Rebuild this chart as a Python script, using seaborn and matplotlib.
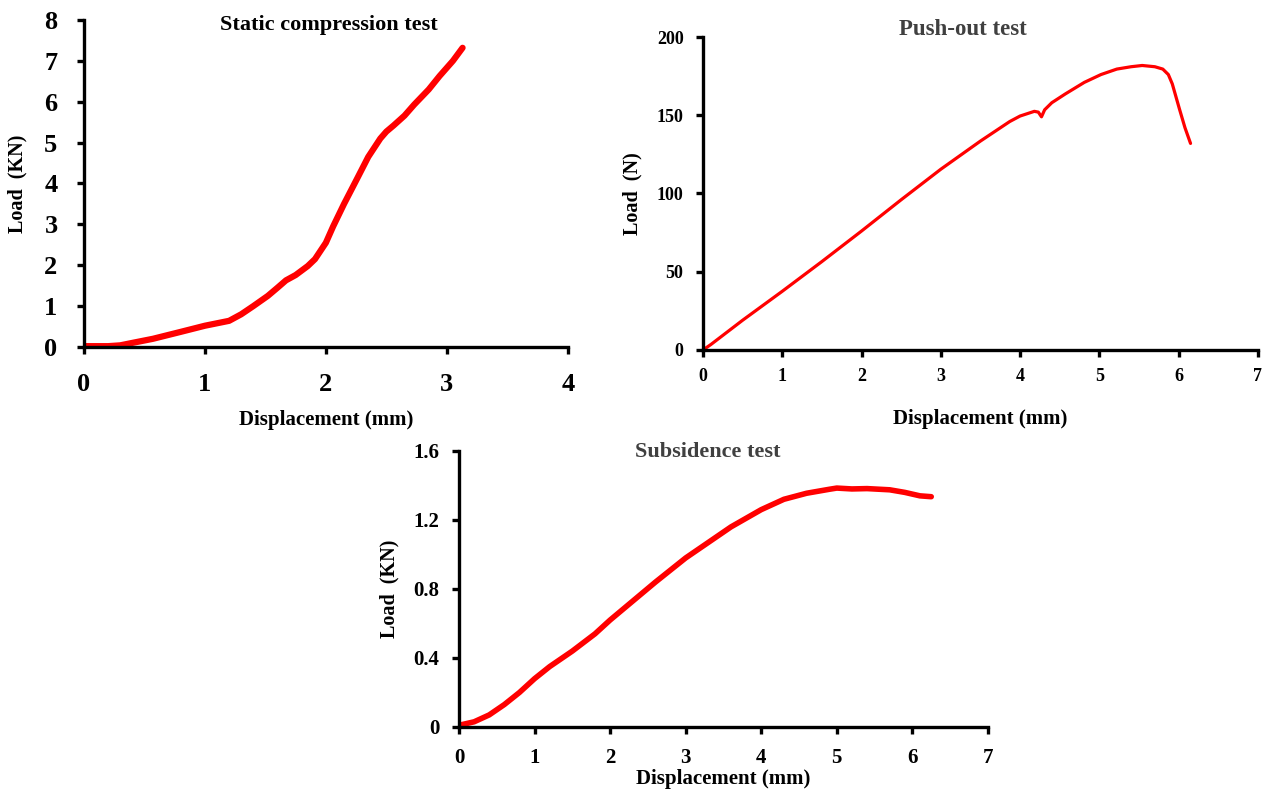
import seaborn as sns
import matplotlib.pyplot as plt

# static compression test (kN)
sc_disp = [0, 0.1, 0.2, 0.3, 0.4, 0.57, 0.8, 1.0, 1.2, 1.3, 1.4, 1.52, 1.6, 1.67, 1.75, 1.85, 1.91,
           2.0, 2.06, 2.15, 2.26, 2.35, 2.45, 2.5, 2.56, 2.65, 2.73, 2.85, 2.94, 3.05, 3.13]
sc_load = [0.02, 0.02, 0.02, 0.04, 0.1, 0.2, 0.37, 0.52, 0.64, 0.8, 1.0, 1.25, 1.45, 1.63, 1.76, 1.98, 2.15,
           2.55, 2.95, 3.5, 4.13, 4.65, 5.1, 5.27, 5.42, 5.66, 5.93, 6.3, 6.63, 7.0, 7.32]

# push-out test (N)
po_disp = [0, 0.1, 0.5, 1.0, 1.5, 2.0, 2.5, 3.0, 3.5, 3.87, 4.0, 4.18, 4.23, 4.27, 4.31, 4.4,
           4.57, 4.81, 5.02, 5.22, 5.4, 5.54, 5.7, 5.8, 5.87, 5.92, 6.01, 6.08, 6.15]
po_load = [0, 3.5, 19, 37.5, 56.5, 76, 96, 115.5, 133.5, 146, 149.5, 152.5, 152, 149, 153.5, 158,
           163.6, 171, 176, 179.5, 181, 181.8, 181, 179.5, 176, 170, 154, 142, 132]

# subsidence test (kN)
sb_disp = [0, 0.2, 0.4, 0.6, 0.8, 1.0, 1.2, 1.5, 1.8, 2.0, 2.3, 2.6, 3.0, 3.3, 3.6, 4.0,
           4.3, 4.6, 4.9, 5.0, 5.2, 5.4, 5.7, 5.9, 6.1, 6.25]
sb_load = [0.01, 0.03, 0.07, 0.13, 0.2, 0.28, 0.35, 0.44, 0.54, 0.62, 0.73, 0.84, 0.98, 1.07, 1.16, 1.26,
           1.32, 1.355, 1.378, 1.385, 1.38, 1.382, 1.375, 1.36, 1.34, 1.335]

sns.set_style("ticks")
plt.rcParams['font.family'] = ['Liberation Serif', 'DejaVu Serif']
plt.rcParams['font.weight'] = 'bold'
plt.rcParams['text.color'] = 'black'
plt.rcParams['axes.labelcolor'] = 'black'
plt.rcParams['xtick.color'] = 'black'
plt.rcParams['ytick.color'] = 'black'

fig = plt.figure(figsize=(12.7, 7.94), dpi=100)


def style_axes(ax, xmax, ymax, xticks, yticks, ytlabels, fs, xpad, ypad):
    ax.set_xlim(0, xmax)
    ax.set_ylim(0, ymax)
    ax.set_xticks(xticks)
    ax.set_yticks(yticks)
    ax.set_yticklabels(ytlabels)
    for s in ['top', 'right']:
        ax.spines[s].set_visible(False)
    for s in ['left', 'bottom']:
        ax.spines[s].set_linewidth(2.4)
        ax.spines[s].set_color('black')
    ax.tick_params(direction='out', length=5, width=2.4, colors='black', labelsize=fs)
    ax.tick_params(axis='x', pad=xpad)
    ax.tick_params(axis='y', pad=ypad)
    for lab in ax.get_xticklabels() + ax.get_yticklabels():
        lab.set_fontweight('bold')


# top-left
ax1 = fig.add_axes([0.0661, 0.563, 0.381, 0.4118])
sns.lineplot(x=sc_disp, y=sc_load, ax=ax1, color='#ff0000', linewidth=4.5, sort=False)
style_axes(ax1, 4, 8, range(0, 5), range(0, 9), [str(v) for v in range(0, 9)], 19, 14, 14)
ax1.set_xlabel('Displacement (mm)', fontsize=15, fontweight='bold', labelpad=10)
ax1.set_ylabel('Load  (KN)', fontsize=14.5, fontweight='bold', labelpad=12)
ax1.text(0.507, 0.985, 'Static compression test', transform=ax1.transAxes, ha='center', va='center',
         fontsize=16, fontweight='bold', color='black')

# top-right
ax2 = fig.add_axes([0.5535, 0.5592, 0.437, 0.3942])
sns.lineplot(x=po_disp, y=po_load, ax=ax2, color='#ff0000', linewidth=2.3, sort=False)
style_axes(ax2, 7, 200, range(0, 8), range(0, 201, 50), [str(v) for v in range(0, 201, 50)], 13, 8, 9)
ax2.set_xlabel('Displacement (mm)', fontsize=15, fontweight='bold', labelpad=17)
ax2.set_ylabel('Load  (N)', fontsize=14.5, fontweight='bold', labelpad=10)
ax2.text(0.469, 1.025, 'Push-out test', transform=ax2.transAxes, ha='center', va='center',
         fontsize=16.5, fontweight='bold', color='#404040')

# bottom
ax3 = fig.add_axes([0.3614, 0.0844, 0.4165, 0.3476])
sns.lineplot(x=sb_disp, y=sb_load, ax=ax3, color='#ff0000', linewidth=4, sort=False)
yt = [0, 0.4, 0.8, 1.2, 1.6]
style_axes(ax3, 7, 1.6, range(0, 8), yt, ['0', '0.4', '0.8', '1.2', '1.6'], 15, 10, 9)
ax3.set_xlabel('Displacement (mm)', fontsize=15, fontweight='bold', labelpad=1)
ax3.set_ylabel('Load  (KN)', fontsize=14.5, fontweight='bold', labelpad=10)
ax3.text(0.47, 0.995, 'Subsidence test', transform=ax3.transAxes, ha='center', va='center',
         fontsize=16, fontweight='bold', color='#404040')

fig.savefig('out.png', dpi=100)
